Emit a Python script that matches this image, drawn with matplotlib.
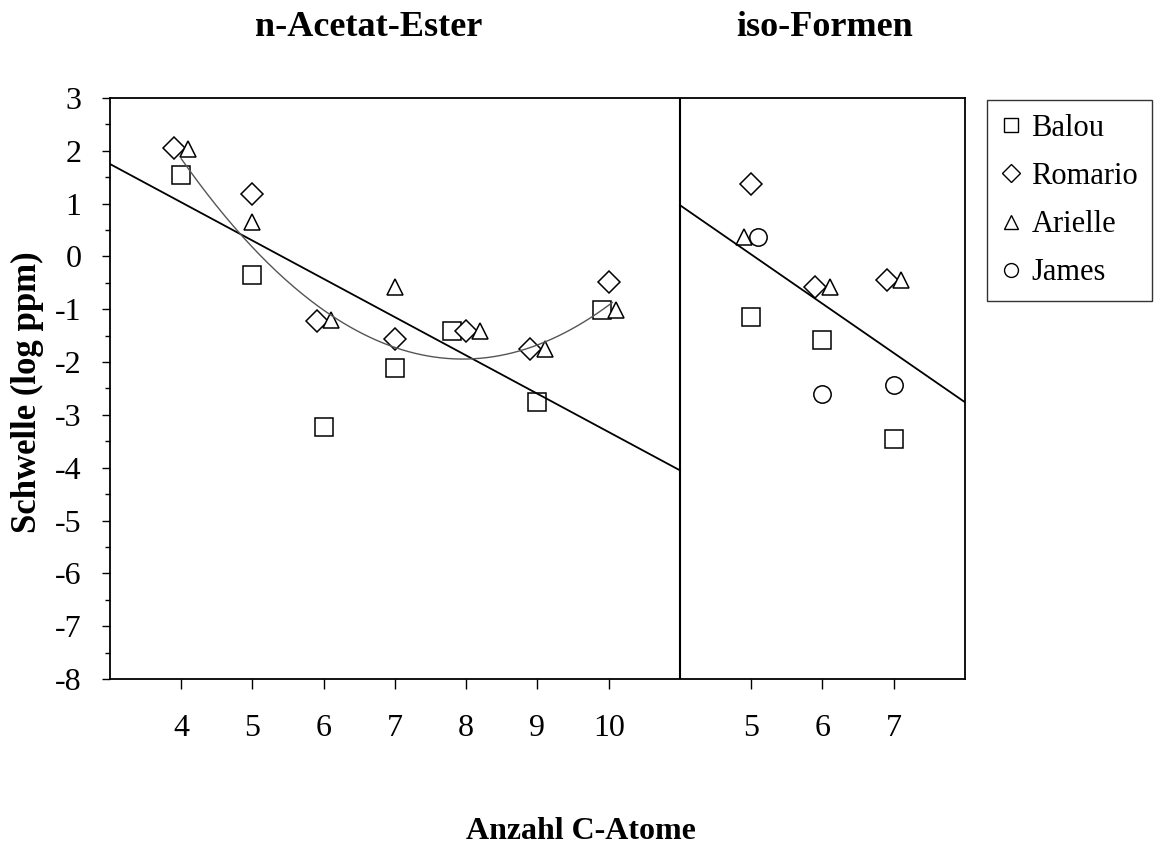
import numpy as np
import matplotlib
matplotlib.use("Agg")
import matplotlib.pyplot as plt
from matplotlib.lines import Line2D

plt.rcParams['font.family'] = ['Liberation Serif', 'DejaVu Serif']

# ---- data -------------------------------------------------------------
# n-Acetat-Ester (left panel): carbon count, slightly jittered per subject
left_ticks = [4, 5, 6, 7, 8, 9, 10]
balou_left_x = [4.0, 5.0, 6.0, 7.0, 7.8, 9.0, 9.9]
balou_left_y = [1.55, -0.36, -3.23, -2.11, -1.41, -2.76, -1.01]
romario_left_x = [3.9, 5.0, 5.9, 7.0, 8.0, 8.9, 10.0]
romario_left_y = [2.05, 1.18, -1.22, -1.56, -1.41, -1.75, -0.49]
arielle_left_x = [4.1, 5.0, 6.1, 7.0, 8.2, 9.1, 10.1]
arielle_left_y = [2.04, 0.66, -1.20, -0.58, -1.42, -1.75, -1.01]

# iso-Formen (right panel)
right_ticks = [5, 6, 7]
balou_right_x = [5.0, 6.0, 7.0]
balou_right_y = [-1.15, -1.59, -3.46]
romario_right_x = [5.0, 5.9, 6.9]
romario_right_y = [1.37, -0.57, -0.44]
arielle_right_x = [4.9, 6.1, 7.1]
arielle_right_y = [0.36, -0.58, -0.45]
james_right_x = [5.1, 6.0, 7.0]
james_right_y = [0.37, -2.60, -2.44]

# trend lines
left_trend_x = [3.0, 11.0]
left_trend_y = [1.75, -4.05]
right_trend_x = [4.0, 8.0]
right_trend_y = [0.97, -2.76]
poly_coef = [0.243, -3.864, 13.418]    # quadratic trend, n-Acetat-Ester
poly_range = [4.0, 10.05]

# ---- layout -----------------------------------------------------------
# both panels share one axes; the iso-Formen panel is shifted right by 7
shift = 7.0

fig = plt.figure(figsize=(11.61, 8.47), dpi=100)
ax = fig.add_axes([110 / 1161, 1 - 679 / 847, 855 / 1161, 581 / 847])
ax.set_xlim(3, 15)
ax.set_ylim(-8, 3)

for s in ax.spines.values():
    s.set_linewidth(1.3)
    s.set_color('black')
ax.axvline(11, color='black', lw=1.5, zorder=3)

xt = list(left_ticks) + [t + shift for t in right_ticks]
ax.set_xticks(xt)
ax.set_xticklabels([str(t) for t in left_ticks] + [str(t) for t in right_ticks])
ax.set_yticks(np.arange(-8, 4, 1))
ax.set_yticklabels([str(v) for v in range(-8, 4)])
ax.set_yticks(np.arange(-7.5, 3, 1), minor=True)
ax.tick_params(axis='x', direction='out', length=7.5, width=1, pad=18,
               labelsize=23, color='black')
ax.tick_params(axis='y', which='major', direction='out', length=5.5, width=1,
               pad=15, labelsize=23)
ax.tick_params(axis='y', which='minor', direction='out', length=3.5, width=1)

mk = dict(ls='none', mfc='white', mec='black', mew=1.1, zorder=4)
ax.plot(balou_left_x, balou_left_y, marker='s', ms=12.5, **mk)
ax.plot(romario_left_x, romario_left_y, marker='D', ms=11, **mk)
ax.plot(arielle_left_x, arielle_left_y, marker='^', ms=11.5, **mk)

ax.plot(np.array(balou_right_x) + shift, balou_right_y, marker='s', ms=12.5, **mk)
ax.plot(np.array(romario_right_x) + shift, romario_right_y, marker='D', ms=11, **mk)
ax.plot(np.array(arielle_right_x) + shift, arielle_right_y, marker='^', ms=11.5, **mk)
ax.plot(np.array(james_right_x) + shift, james_right_y, marker='o', ms=12.5, **mk)

# trend lines
ax.plot(left_trend_x, left_trend_y, color='black', lw=1.3, zorder=5)
ax.plot(np.array(right_trend_x) + shift, right_trend_y, color='black', lw=1.3, zorder=5)
xc = np.linspace(poly_range[0], poly_range[1], 200)
ax.plot(xc, np.polyval(poly_coef, xc), color='#555555', lw=1.0, zorder=5)

# titles and axis labels
fig.text(369 / 1161, 1 - 28 / 847, 'n-Acetat-Ester', ha='center', va='center',
         fontsize=26, fontweight='bold')
fig.text(825 / 1161, 1 - 28 / 847, 'iso-Formen', ha='center', va='center',
         fontsize=26, fontweight='bold')
fig.text(581 / 1161, 1 - 831 / 847, 'Anzahl C-Atome', ha='center', va='center',
         fontsize=23, fontweight='bold')
fig.text(27 / 1161, 1 - 392 / 847, 'Schwelle (log ppm)', ha='center', va='center',
         rotation=90, fontsize=25, fontweight='bold')

# legend
handles = [
    Line2D([], [], ls='none', marker='s', ms=10, mfc='white', mec='black', mew=1),
    Line2D([], [], ls='none', marker='D', ms=9, mfc='white', mec='black', mew=1),
    Line2D([], [], ls='none', marker='^', ms=9.5, mfc='white', mec='black', mew=1),
    Line2D([], [], ls='none', marker='o', ms=10, mfc='white', mec='black', mew=1),
]
labels = ['Balou', 'Romario', 'Arielle', 'James']
leg = fig.legend(handles, labels, loc='upper left',
                 bbox_to_anchor=(987 / 1161, 1 - 100 / 847),
                 bbox_transform=fig.transFigure, borderaxespad=0,
                 fontsize=22, frameon=True, fancybox=False, shadow=False,
                 handlelength=0.7, handletextpad=0.3, labelspacing=0.63,
                 borderpad=0.45)
leg.get_frame().set_edgecolor('black')
leg.get_frame().set_linewidth(1.0)

fig.savefig('out.png', dpi=100)
